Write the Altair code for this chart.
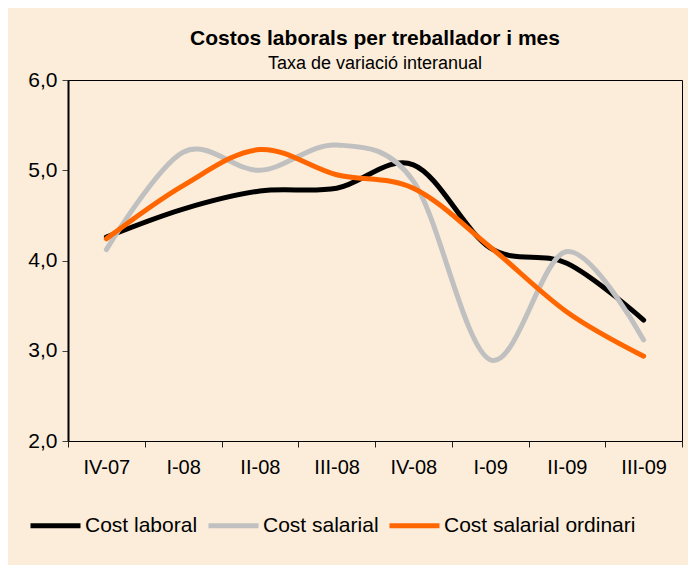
import altair as alt
import pandas as pd

periods = ["IV-07", "I-08", "II-08", "III-08", "IV-08", "I-09", "II-09", "III-09"]
series_names = ["Cost laboral", "Cost salarial", "Cost salarial ordinari"]
cost_laboral = [4.26, 4.57, 4.77, 4.80, 5.06, 4.14, 3.97, 3.34]
cost_salarial = [4.12, 5.20, 5.00, 5.28, 4.88, 2.90, 4.10, 3.12]
cost_salarial_ordinari = [4.24, 4.83, 5.23, 4.95, 4.80, 4.15, 3.43, 2.94]
colors = ["#000000", "#C0C0C0", "#FF6600"]

rows = []
for name, vals in zip(series_names, [cost_laboral, cost_salarial, cost_salarial_ordinari]):
    for i, (p, v) in enumerate(zip(periods, vals)):
        rows.append({"periode": p, "valor": v, "serie": name, "idx": i})
df = pd.DataFrame(rows)

FONT = "Liberation Sans"
BG = "#FBEDDA"

chart = alt.Chart(df).mark_line(
    interpolate="cardinal", strokeWidth=5, strokeCap="round"
).encode(
    x=alt.X("periode:N", sort=periods, title=None,
            scale=alt.Scale(type="band", paddingInner=0, paddingOuter=0),
            axis=alt.Axis(labelAngle=0, tickBand="extent", labelFontSize=20,
                          labelFont=FONT, labelColor="#000", labelPadding=10,
                          tickSize=6, tickColor="#222", domainColor="#000",
                          domainWidth=1, grid=False)),
    y=alt.Y("valor:Q", title=None,
            scale=alt.Scale(domain=[2, 6], nice=False, zero=False),
            axis=alt.Axis(values=[2, 3, 4, 5, 6], grid=False, labelFontSize=21,
                          labelFont=FONT, labelColor="#000", labelPadding=5,
                          tickSize=6, tickColor="#444", domainColor="#000",
                          domainWidth=2,
                          labelExpr="replace(format(datum.value, '.1f'), '.', ',')")),
    color=alt.Color("serie:N", sort=series_names,
                    scale=alt.Scale(domain=series_names, range=colors),
                    legend=alt.Legend(title=None, orient="none", direction="horizontal",
                                      legendX=-40, legendY=418,
                                      symbolType="stroke", symbolSize=2500,
                                      symbolStrokeWidth=5, labelFontSize=21,
                                      labelFont=FONT, labelColor="#000",
                                      labelOffset=2, columnPadding=0,
                                      labelLimit=300)),
    order=alt.Order("idx:Q"),
).properties(
    width=614,
    height=361,
    background=BG,
    padding={"left": 60, "top": 72, "right": 6, "bottom": 124},
    autosize=alt.AutoSizeParams(type="none"),
    title=alt.TitleParams(
        text="Costos laborals per treballador i mes",
        subtitle="Taxa de variació interanual",
        font=FONT, fontSize=21, fontWeight="bold", color="#000",
        subtitleFont=FONT, subtitleFontSize=18, subtitleColor="#000",
        subtitlePadding=6, anchor="middle", offset=-4,
    ),
).configure_view(
    stroke="#000", strokeWidth=1, fill=BG
)

chart.save("out.html", embed_options={"renderer": "svg", "actions": False})
